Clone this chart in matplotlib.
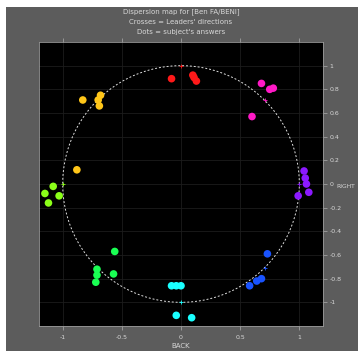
import numpy as np
import matplotlib
matplotlib.use("Agg")
import matplotlib.pyplot as plt
import colorsys
from matplotlib.patches import Rectangle

# Leader directions in degrees (counter-clockwise from front/top)
directions = [0, 45, 90, 135, 180, 225, 270, 315]

# Subject answers per direction (x, y)
ans_x = {
    0:   [-0.08, 0.10, 0.13, 0.11],
    45:  [-0.83, -0.68, -0.69, -0.70, -0.88],
    90:  [-1.08, -1.15, -1.03, -1.12],
    135: [-0.56, -0.71, -0.57, -0.72, -0.71],
    180: [-0.08, -0.04, 0.00, -0.04, 0.09],
    225: [0.73, 0.64, 0.58, 0.68],
    270: [1.04, 1.05, 1.06, 1.08, 0.99],
    315: [0.68, 0.75, 0.78, 0.60],
}
ans_y = {
    0:   [0.89, 0.92, 0.87, 0.90],
    45:  [0.71, 0.75, 0.66, 0.71, 0.12],
    90:  [-0.02, -0.08, -0.10, -0.16],
    135: [-0.57, -0.72, -0.76, -0.83, -0.77],
    180: [-0.86, -0.86, -0.86, -1.11, -1.13],
    225: [-0.59, -0.82, -0.86, -0.80],
    270: [0.11, 0.05, 0.00, -0.07, -0.10],
    315: [0.85, 0.80, 0.81, 0.57],
}

title_lines = ["Dispersion map for [Ben FA/BENI]",
               "Crosses = Leaders' directions",
               "Dots = subject's answers"]
xticks = [-1, -0.5, 0, 0.5, 1]
yticks = [-1, -0.8, -0.6, -0.4, -0.2, 0, 0.2, 0.4, 0.6, 0.8, 1]

W, H = 358, 351
fig = plt.figure(figsize=(W / 100, H / 100), dpi=100, facecolor="white")
fig.patches.append(Rectangle((6 / W, 0), 1, 1 - 7 / H, transform=fig.transFigure,
                             facecolor="#5c5c5c", edgecolor="none", zorder=-10))

ax = fig.add_axes([39 / W, 1 - 326 / H, 284 / W, 284 / H])
ax.set_facecolor("black")
ax.set_xlim(-1.2, 1.2)
ax.set_ylim(-1.2, 1.2)

txtc = "#d8d8d8"
ax.set_xticks(xticks)
ax.set_xticklabels([f"{t:g}" for t in xticks])
ax.set_yticks(yticks)
ax.set_yticklabels([f"{t:g}" for t in yticks])
ax.yaxis.tick_right()
ax.tick_params(colors="#a0a0a0", labelcolor=txtc, labelsize=4.5, length=3, width=0.6,
               top=True, left=False, right=True)
ax.tick_params(axis="y", pad=1.5)
ax.grid(True, color="#1c1c1c", linewidth=0.6)
for s in ax.spines.values():
    s.set_color("#9a9a9a")
    s.set_linewidth(0.6)

ax.set_xlabel("BACK", color=txtc, fontsize=5, labelpad=2)
fig.text(336 / W, 1 - 186 / H, "RIGHT", color=txtc, fontsize=4.3, ha="left", va="center")

th = np.linspace(0, 2 * np.pi, 400)
ax.plot(np.cos(th), np.sin(th), color="#e0e0e0", linestyle=(0, (2, 2)), linewidth=0.7, zorder=2)

for d in directions:
    col = colorsys.hsv_to_rgb(d / 360.0, 0.9, 1.0)
    ax.scatter(ans_x[d], ans_y[d], s=30, color=col, edgecolors="none", zorder=3)
    r = np.deg2rad(d)
    ax.plot([-np.sin(r)], [np.cos(r)], marker="+", color=col, markersize=3,
            markeredgewidth=0.6, zorder=4)

for i, line in enumerate(title_lines):
    fig.text(181 / W, 1 - (12 + 10 * i) / H, line, color=txtc, fontsize=5,
             ha="center", va="center")

fig.savefig("out.png", dpi=100, facecolor=fig.get_facecolor())
